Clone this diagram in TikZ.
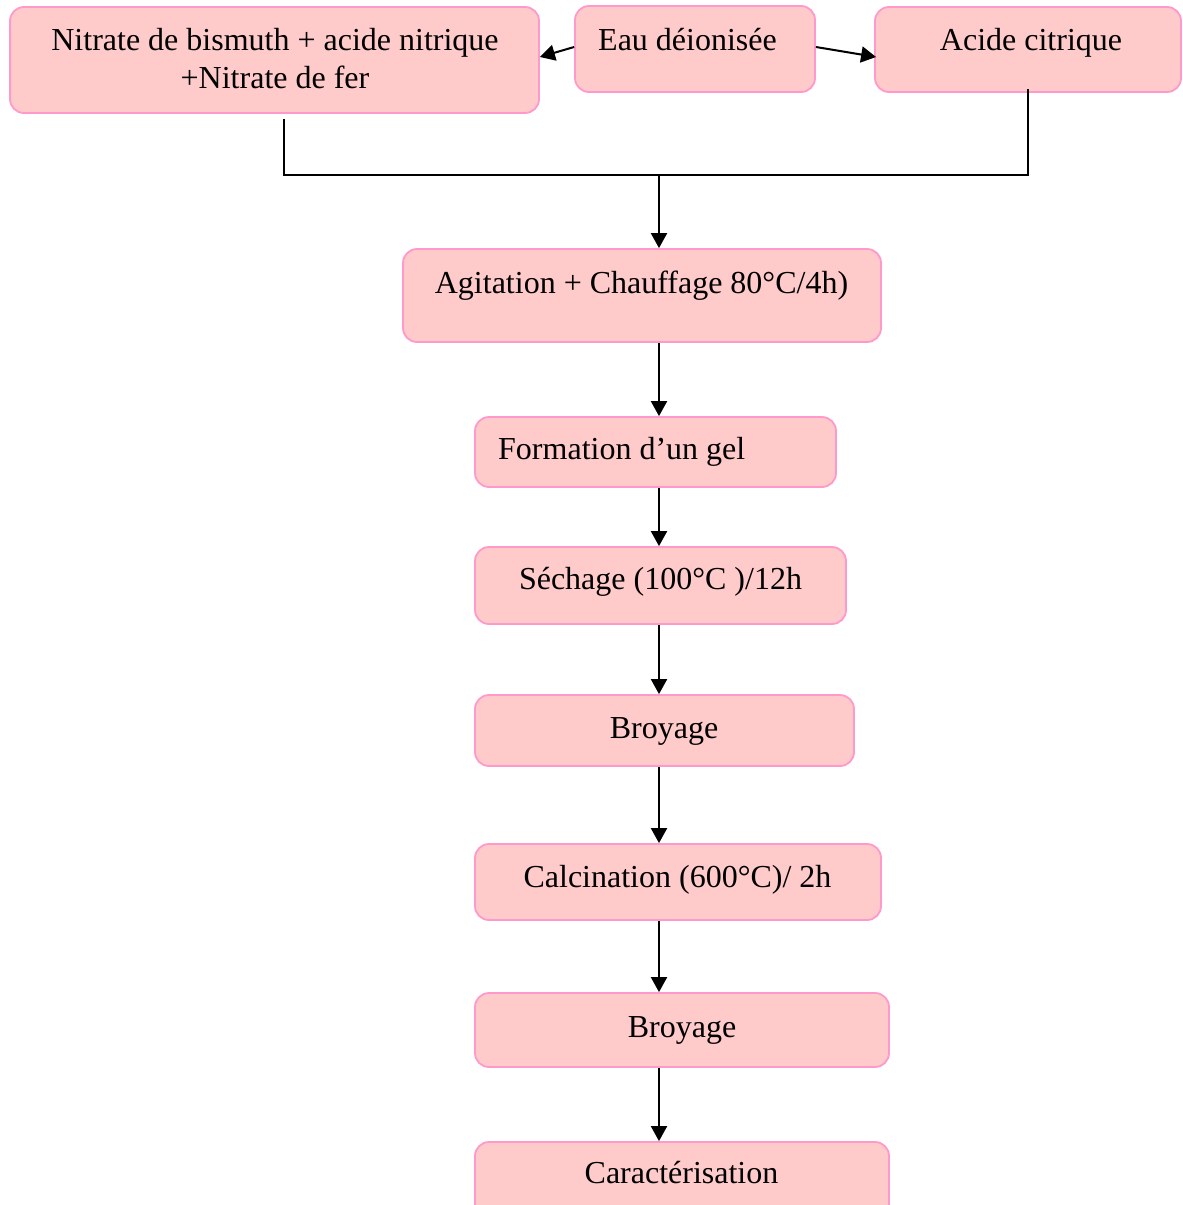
\documentclass[tikz,border=0pt]{standalone}
\usepackage{fontspec}
\setmainfont{Liberation Serif}
\usetikzlibrary{arrows.meta}
\definecolor{boxfill}{HTML}{FFCACA}
\definecolor{boxline}{HTML}{FF99CC}
\begin{document}
\begin{tikzpicture}[x=1pt,y=-1pt,
  box/.style={draw=boxline, fill=boxfill, line width=1.8pt, rounded corners=14pt, inner sep=0pt},
  txt/.style={anchor=base, inner sep=0pt, font=\fontsize{32}{38}\selectfont, align=center},
  conn/.style={line width=2pt, black},
  arr/.style={conn, -{Triangle[length=15pt,width=16pt]}}]
\clip (0,0) rectangle (1183,1205);
\fill[white] (0,0) rectangle (1183,1205);
% boxes
\node[box, minimum width=529pt, minimum height=106pt] (nit) at (274.5,60) {};
\node[box, minimum width=240pt, minimum height=86pt] (eau) at (695,49) {};
\node[box, minimum width=306pt, minimum height=85pt] (aci) at (1028,49.5) {};
\node[box, minimum width=478pt, minimum height=93pt] (agi) at (642,295.5) {};
\node[box, minimum width=361pt, minimum height=70pt] (gel) at (655.5,452) {};
\node[box, minimum width=371pt, minimum height=77pt] (sec) at (660.5,585.5) {};
\node[box, minimum width=379pt, minimum height=71pt] (bro1) at (664.5,730.5) {};
\node[box, minimum width=406pt, minimum height=76pt] (cal) at (678,882) {};
\node[box, minimum width=414pt, minimum height=74pt] (bro2) at (682,1030) {};
\node[box, minimum width=414pt, minimum height=88pt] (car) at (682,1186) {};
% texts
\node[txt] (tnit) at (275,88) {Nitrate de bismuth + acide nitrique\\+Nitrate de fer};
\node[txt] (teau) at (687.5,50) {Eau déionisée};
\node[txt] (taci) at (1031,50) {Acide citrique};
\node[txt] (tagi) at (641.5,293) {Agitation + Chauffage 80°C/4h)};
\node[txt, anchor=base west] (tgel) at (498,459) {Formation d’un gel};
\node[txt] (tsec) at (660.5,589) {Séchage (100°C )/12h};
\node[txt] (tbro1) at (664,738) {Broyage};
\node[txt] (tcal) at (677.5,887) {Calcination (600°C)/ 2h};
\node[txt] (tbro2) at (682,1037) {Broyage};
\node[txt] (tcar) at (681.5,1183) {Caractérisation};
% connectors
\coordinate (j) at (659,175);
\coordinate (n1) at ([xshift=9.5pt,yshift=-5pt]nit.south);
\coordinate (a1) at ([yshift=4pt]aci.south);
\draw[arr] ([yshift=2pt]eau.west) -- ([yshift=3pt]nit.east);
\draw[arr] ([yshift=2pt]eau.east) -- ([xshift=2pt,yshift=-7.5pt]aci.west);
\draw[conn] (n1) -- (n1 |- j) -- (a1 |- j) -- (a1);
\draw[arr] (j) -- (j |- agi.north);
\draw[arr] (j |- agi.south) -- (j |- gel.north);
\draw[arr] (j |- gel.south) -- (j |- sec.north);
\draw[arr] (j |- sec.south) -- (j |- bro1.north);
\draw[arr] (j |- bro1.south) -- (j |- cal.north);
\draw[arr] (j |- cal.south) -- (j |- bro2.north);
\draw[arr] (j |- bro2.south) -- (j |- car.north);
\end{tikzpicture}
\end{document}
